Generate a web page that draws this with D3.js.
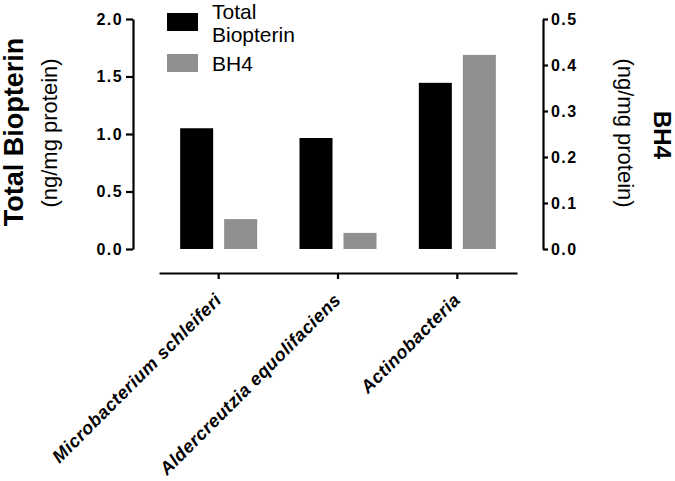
<!DOCTYPE html>
<html>
<head>
<meta charset="utf-8">
<script src="https://cdn.jsdelivr.net/npm/d3@7"></script>
<style>
  body { margin: 0; background: #fff; }
  svg { display: block; font-family: "Liberation Sans", Arial, sans-serif; }
</style>
</head>
<body>
<div id="chart"></div>
<script>
// data
const categories = ["Microbacterium schleiferi", "Aldercreutzia equolifaciens", "Actinobacteria"];
const totalBiopterin = [1.05, 0.965, 1.445];   // left axis, ng/mg protein
const bh4 = [0.065, 0.035, 0.422];              // right axis, ng/mg protein
const leftTicks = [0, 0.5, 1.0, 1.5, 2.0];
const rightTicks = [0, 0.1, 0.2, 0.3, 0.4, 0.5];

const width = 675, height = 481;
const black = "#000000", grey = "#8f8f8f";

const svg = d3.select("#chart")
  .append("svg")
  .attr("width", width)
  .attr("height", height);

const xScale = d3.scaleBand().domain(categories).range([159, 517]);
const yLeft = d3.scaleLinear().domain([0, 2]).range([249, 19]);
const yRight = d3.scaleLinear().domain([0, 0.5]).range([249, 19]);

const barW = 33, gap = 11;

// bars
svg.append("g")
  .selectAll("rect")
  .data(categories)
  .enter()
  .append("rect")
  .attr("x", d => xScale(d) + xScale.bandwidth() / 2 - gap / 2 - barW)
  .attr("y", (d, i) => yLeft(totalBiopterin[i]))
  .attr("width", barW)
  .attr("height", (d, i) => yLeft(0) - yLeft(totalBiopterin[i]))
  .style("fill", black);

svg.append("g")
  .selectAll("rect")
  .data(categories)
  .enter()
  .append("rect")
  .attr("x", d => xScale(d) + xScale.bandwidth() / 2 + gap / 2)
  .attr("y", (d, i) => yRight(bh4[i]))
  .attr("width", barW)
  .attr("height", (d, i) => yRight(0) - yRight(bh4[i]))
  .style("fill", grey);

// left axis
const gl = svg.append("g")
  .attr("transform", "translate(133,0)")
  .call(d3.axisLeft(yLeft).tickValues(leftTicks).tickFormat(d3.format(".1f")).tickSize(7).tickPadding(3).tickSizeOuter(0));

// right axis
const gr = svg.append("g")
  .attr("transform", "translate(543,0)")
  .call(d3.axisRight(yRight).tickValues(rightTicks).tickFormat(d3.format(".1f")).tickSize(5).tickPadding(3).tickSizeOuter(0));

[gl, gr].forEach(g => {
  g.select(".domain").attr("stroke-width", 2.2);
  g.selectAll(".tick line").attr("stroke-width", 2.2);
  g.selectAll(".tick text")
    .style("font-family", "Liberation Sans, Arial, sans-serif")
    .style("font-size", "16px")
    .style("font-weight", "bold")
    .style("letter-spacing", "1.4px")
    .attr("fill", "#000");
});

// x axis
const gx = svg.append("g")
  .attr("transform", "translate(0,273)")
  .call(d3.axisBottom(xScale).tickSize(6).tickSizeOuter(0).tickFormat(""));
gx.select(".domain").attr("stroke-width", 2.2);
gx.selectAll(".tick line").attr("stroke-width", 2.2);

// x labels, rotated
svg.append("g")
  .selectAll("text")
  .data(categories)
  .enter()
  .append("text")
  .attr("transform", d => `translate(${xScale(d) + xScale.bandwidth() / 2 + 4},301)rotate(-45)`)
  .attr("text-anchor", "end")
  .style("font-size", "18px")
  .style("font-weight", "bold")
  .style("font-style", "italic")
  .style("letter-spacing", "0.5px")
  .text(d => d);

// left title
svg.append("text")
  .attr("transform", "translate(23,132)rotate(-90)")
  .attr("text-anchor", "middle")
  .style("font-size", "27px")
  .style("font-weight", "bold")
  .text("Total Biopterin");

svg.append("text")
  .attr("transform", "translate(57,133)rotate(-90)")
  .attr("text-anchor", "middle")
  .style("font-size", "22px")
  .text("(ng/mg protein)");

// right title
svg.append("text")
  .attr("transform", "translate(618,133)rotate(90)")
  .attr("text-anchor", "middle")
  .style("font-size", "22px")
  .text("(ng/mg protein)");

svg.append("text")
  .attr("transform", "translate(654,135)rotate(90)")
  .attr("text-anchor", "middle")
  .style("font-size", "24px")
  .style("font-weight", "bold")
  .text("BH4");

// legend
const legend = svg.append("g");
legend.append("rect").attr("x", 167).attr("y", 13).attr("width", 31).attr("height", 18).style("fill", black);
legend.append("rect").attr("x", 167).attr("y", 54).attr("width", 31).attr("height", 18).style("fill", grey);
legend.append("text").attr("x", 212).attr("y", 19).style("font-size", "21px").text("Total");
legend.append("text").attr("x", 212).attr("y", 42).style("font-size", "21px").text("Biopterin");
legend.append("text").attr("x", 212).attr("y", 71).style("font-size", "21px").text("BH4");
</script>
</body>
</html>
